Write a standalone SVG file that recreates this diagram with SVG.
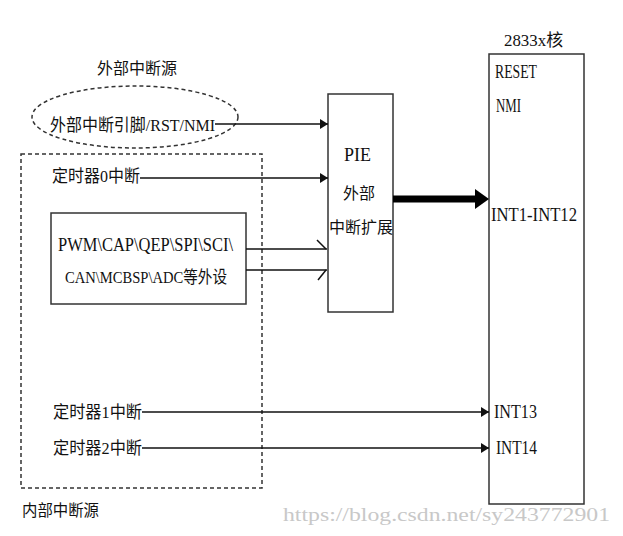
<svg xmlns="http://www.w3.org/2000/svg" width="623" height="536" viewBox="0 0 623 536">
<defs>
<style>
.t{font-family:"Liberation Serif","Noto Sans CJK SC",serif;font-size:19px;fill:#111}
.m{font-family:"Liberation Serif","Noto Sans CJK SC",serif;font-size:17px;fill:#111}
.c{font-family:"Noto Sans CJK SC","Liberation Serif",sans-serif;font-size:16px;fill:#111}
.box{fill:#fff;stroke:#333;stroke-width:1.5}
.dash{fill:none;stroke:#333;stroke-width:1.5;stroke-dasharray:4 3}
.ln{fill:none;stroke:#111;stroke-width:1.5}
.wm{font-family:"Liberation Serif",serif;font-size:19px;fill:#c8c8c8}
</style>
<marker id="ah" viewBox="0 0 8 10" refX="8" refY="5" markerWidth="8" markerHeight="10" markerUnits="userSpaceOnUse" orient="auto">
<path d="M0,0 L8,5 L0,10 z" fill="#111"/>
</marker>
</defs>
<rect width="623" height="536" fill="#fff"/>

<g id="external-source">
<ellipse class="dash" cx="135" cy="117" rx="103" ry="31"/>
<text class="c" x="97" y="74" textLength="80" lengthAdjust="spacingAndGlyphs">外部中断源</text>
<text class="m" x="50" y="131" textLength="165" lengthAdjust="spacingAndGlyphs">外部中断引脚/RST/NMI</text>
</g>

<g id="internal-source">
<rect class="dash" x="21" y="154" width="241" height="334"/>
<text class="c" x="22" y="516" textLength="77" lengthAdjust="spacingAndGlyphs">内部中断源</text>
</g>

<g id="timer0">
<text class="m" x="52" y="182" textLength="88" lengthAdjust="spacingAndGlyphs">定时器0中断</text>
</g>

<g id="peripherals">
<rect class="box" x="51" y="213" width="195" height="91"/>
<text class="t" x="58" y="251" textLength="175" lengthAdjust="spacingAndGlyphs">PWM\CAP\QEP\SPI\SCI\</text>
<text class="m" x="65" y="283" textLength="162" lengthAdjust="spacingAndGlyphs">CAN\MCBSP\ADC等外设</text>
</g>

<g id="timer1">
<text class="m" x="53" y="418" textLength="89" lengthAdjust="spacingAndGlyphs">定时器1中断</text>
</g>

<g id="timer2">
<text class="m" x="53" y="454" textLength="89" lengthAdjust="spacingAndGlyphs">定时器2中断</text>
</g>

<g id="pie">
<rect class="box" x="328" y="94" width="65" height="218"/>
<text class="t" x="344" y="161" textLength="27" lengthAdjust="spacingAndGlyphs">PIE</text>
<text class="c" x="343" y="199" textLength="32" lengthAdjust="spacingAndGlyphs">外部</text>
<text class="c" x="329" y="233" textLength="64" lengthAdjust="spacingAndGlyphs">中断扩展</text>
</g>

<g id="core">
<text class="m" x="504" y="46" textLength="59" lengthAdjust="spacingAndGlyphs">2833x核</text>
<rect class="box" x="489" y="54" width="95" height="450"/>
<text class="t" x="495" y="78" textLength="42" lengthAdjust="spacingAndGlyphs">RESET</text>
<text class="t" x="496" y="112" textLength="25" lengthAdjust="spacingAndGlyphs">NMI</text>
<text class="t" x="491" y="221" textLength="86" lengthAdjust="spacingAndGlyphs">INT1-INT12</text>
<text class="t" x="494" y="418" textLength="43" lengthAdjust="spacingAndGlyphs">INT13</text>
<text class="t" x="496" y="454" textLength="41" lengthAdjust="spacingAndGlyphs">INT14</text>
</g>

<g id="connectors">
<line class="ln" x1="215" y1="124" x2="328" y2="124" marker-end="url(#ah)"/>
<line class="ln" x1="140" y1="178" x2="328" y2="178" marker-end="url(#ah)"/>
<line class="ln" x1="246" y1="249" x2="327" y2="249"/>
<line class="ln" x1="317" y1="240" x2="326" y2="249"/>
<line class="ln" x1="246" y1="270" x2="327" y2="270"/>
<line class="ln" x1="318" y1="280" x2="326" y2="270"/>
<line x1="393" y1="199" x2="477" y2="199" stroke="#000" stroke-width="7"/>
<path d="M475,189 L489,199 L475,209 z" fill="#000"/>
<line class="ln" x1="142" y1="412" x2="489" y2="412" marker-end="url(#ah)"/>
<line class="ln" x1="142" y1="448" x2="489" y2="448" marker-end="url(#ah)"/>
</g>

<text class="wm" x="283" y="521" textLength="327" lengthAdjust="spacingAndGlyphs">https://blog.csdn.net/sy243772901</text>
</svg>
